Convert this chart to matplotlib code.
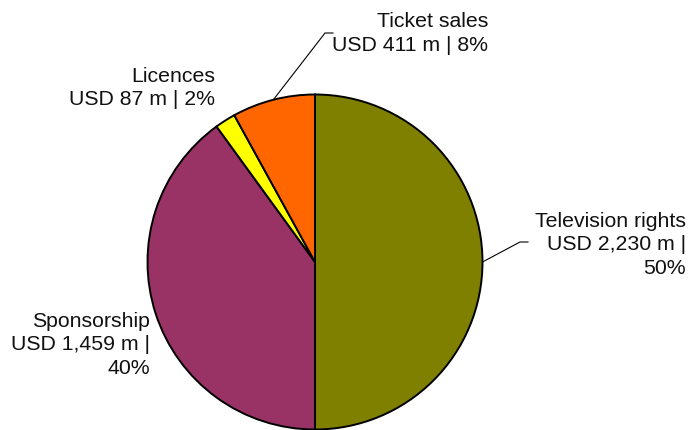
import numpy as np
import matplotlib.pyplot as plt

# ----------------------------------
# Revenue breakdown
# ----------------------------------
names = ["Television rights", "Sponsorship", "Licences", "Ticket sales"]
usd_m = [2230, 1459, 87, 411]
shares = [50, 40, 2, 8]
wrap_label = [True, True, False, False]
colors = ["#808000", "#993366", "#FFFF00", "#FF6600"]

W, H = 688, 431
plt.rcParams["font.family"] = ["Liberation Sans", "DejaVu Sans"]

fig = plt.figure(figsize=(W / 100, H / 100), dpi=100)
ax = fig.add_axes([0, 0, 1, 1])
ax.set_xlim(0, W)
ax.set_ylim(0, H)
ax.set_aspect("equal")
ax.axis("off")

cx, cy, r = 315, H - 263, 167.5
wedges, _ = ax.pie(
    shares,
    colors=colors,
    startangle=90,
    counterclock=False,
    center=(cx, cy),
    radius=r,
    frame=True,
    wedgeprops=dict(edgecolor="black", linewidth=1.4),
)
ax.set_xlim(0, W)
ax.set_ylim(0, H)
ax.axis("off")

# label anchors (right edge, vertical centre) in pixel coords from top
label_pos = [(686, 245), (150, 345), (215, 88), (488, 33.5)]
# leader elbows for labels that have one
leaders = {0: [(520, 243), (528, 243)], 3: [(325, 34), (333, 34)]}

for i, name in enumerate(names):
    if wrap_label[i]:
        text = f"{name}\nUSD {usd_m[i]:,} m |\n{shares[i]}%"
    else:
        text = f"{name}\nUSD {usd_m[i]:,} m | {shares[i]}%"
    x, y = label_pos[i]
    ax.text(x, H - y, text, ha="right", va="center", multialignment="right",
            fontsize=15.3, linespacing=1.32, color="#111111")

    if i in leaders:
        w = wedges[i]
        mid = np.deg2rad((w.theta1 + w.theta2) / 2)
        px = [cx + r * np.cos(mid)] + [p[0] for p in leaders[i]]
        py = [cy + r * np.sin(mid)] + [H - p[1] for p in leaders[i]]
        ax.plot(px, py, color="black", linewidth=0.8)

fig.savefig("out.png", dpi=100)
